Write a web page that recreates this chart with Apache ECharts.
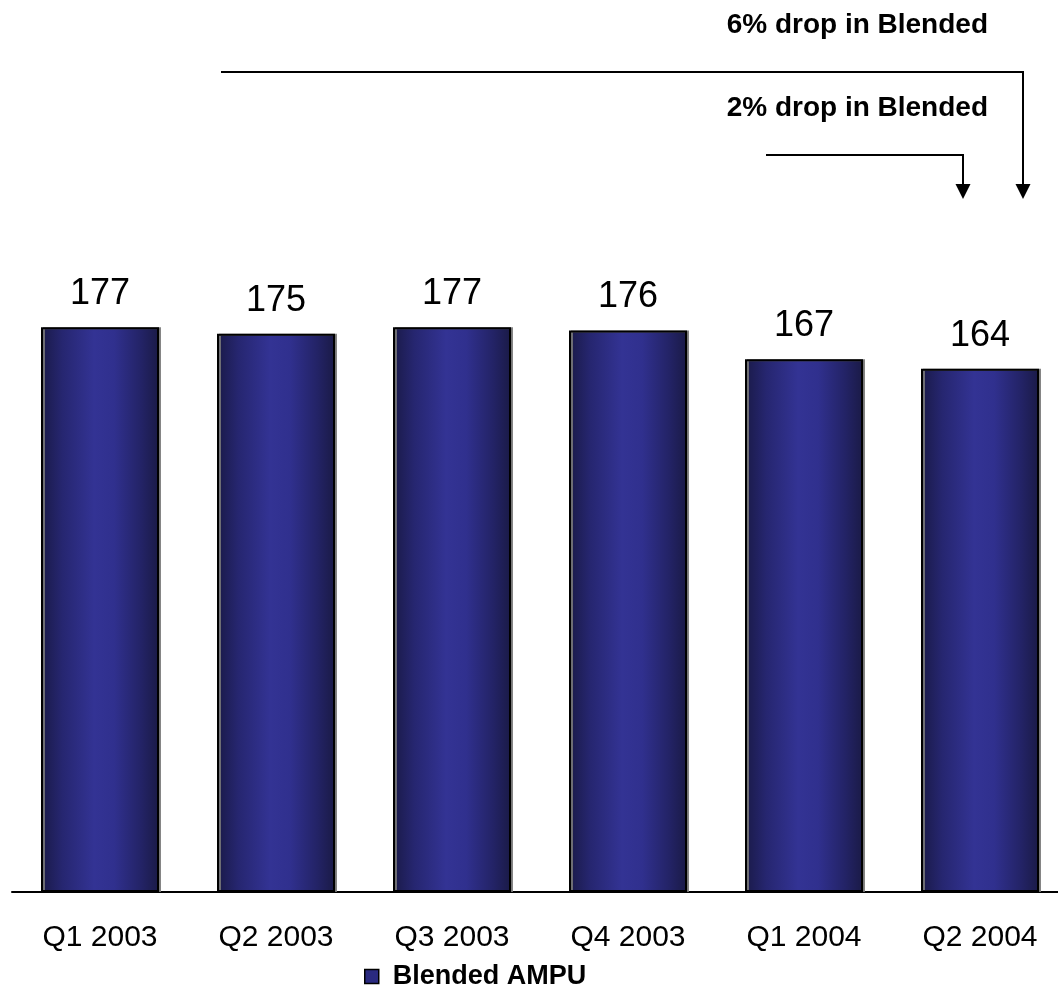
<!DOCTYPE html>
<html>
<head>
<meta charset="utf-8">
<script src="https://cdn.jsdelivr.net/npm/echarts@6/dist/echarts.min.js"></script>
<style>
  html, body { margin: 0; padding: 0; background: #ffffff; overflow: hidden; }
  #chart { width: 1070px; height: 988px; }
</style>
</head>
<body>
<div id="chart"></div>
<script>
// Quarterly blended AMPU
const categories = ['Q1 2003', 'Q2 2003', 'Q3 2003', 'Q4 2003', 'Q1 2004', 'Q2 2004'];
const ampuValues = [177, 175, 177, 176, 167, 164];
const seriesName = 'Blended AMPU';
const notes = ['6% drop in Blended', '2% drop in Blended'];

const chart = echarts.init(document.getElementById('chart'));

const barFill = new echarts.graphic.LinearGradient(0, 0, 1, 0, [
  { offset: 0, color: '#1a1a48' },
  { offset: 0.18, color: '#262670' },
  { offset: 0.45, color: '#333394' },
  { offset: 0.62, color: '#30308e' },
  { offset: 0.85, color: '#232366' },
  { offset: 1, color: '#1a1a46' }
]);

const font = 'Liberation Sans, Arial, sans-serif';
const arrowStyle = { stroke: '#000', lineWidth: 2, fill: null };

chart.setOption({
  backgroundColor: '#ffffff',
  animation: false,
  grid: { left: 12, top: 254, width: 1056, height: 638 },
  legend: {
    data: [seriesName],
    left: 359,
    top: 958,
    itemWidth: 14,
    itemHeight: 14,
    icon: 'rect',
    textStyle: {
      fontFamily: font, fontSize: 27, fontWeight: 'bold', color: '#000',
      lineHeight: 27, padding: [0, 0, 0, 9]
    },
    itemStyle: { color: '#2a2a80', borderColor: '#000', borderWidth: 1.5 }
  },
  xAxis: {
    type: 'category',
    data: categories,
    axisLine: { lineStyle: { color: '#000', width: 2 } },
    axisTick: { show: false },
    axisLabel: { fontFamily: font, fontSize: 30, color: '#000', margin: 31 }
  },
  yAxis: {
    type: 'value',
    min: 0,
    max: 200,
    show: false,
    splitLine: { show: false }
  },
  series: [{
    name: seriesName,
    type: 'bar',
    data: ampuValues,
    barWidth: 118,
    itemStyle: {
      color: barFill,
      borderColor: '#000',
      borderWidth: 2,
      shadowColor: 'rgba(120,120,120,0.9)',
      shadowOffsetX: 2,
      shadowOffsetY: 0,
      shadowBlur: 0
    },
    label: {
      show: true,
      position: 'top',
      distance: 15,
      fontFamily: font,
      fontSize: 36,
      color: '#000'
    }
  }],
  graphic: [
    { type: 'text', x: 988, y: 25, style: { text: notes[0], font: 'bold 28px ' + font, fill: '#000', textAlign: 'right', textVerticalAlign: 'middle' } },
    { type: 'text', x: 988, y: 108, style: { text: notes[1], font: 'bold 28px ' + font, fill: '#000', textAlign: 'right', textVerticalAlign: 'middle' } },
    { type: 'polyline', shape: { points: [[221, 72], [1023, 72], [1023, 186]] }, style: arrowStyle },
    { type: 'polygon', shape: { points: [[1015.5, 184], [1030.5, 184], [1023, 199]] }, style: { fill: '#000' } },
    { type: 'polyline', shape: { points: [[766, 155], [963, 155], [963, 186]] }, style: arrowStyle },
    { type: 'polygon', shape: { points: [[955.5, 184], [970.5, 184], [963, 199]] }, style: { fill: '#000' } }
  ]
});
</script>
</body>
</html>
